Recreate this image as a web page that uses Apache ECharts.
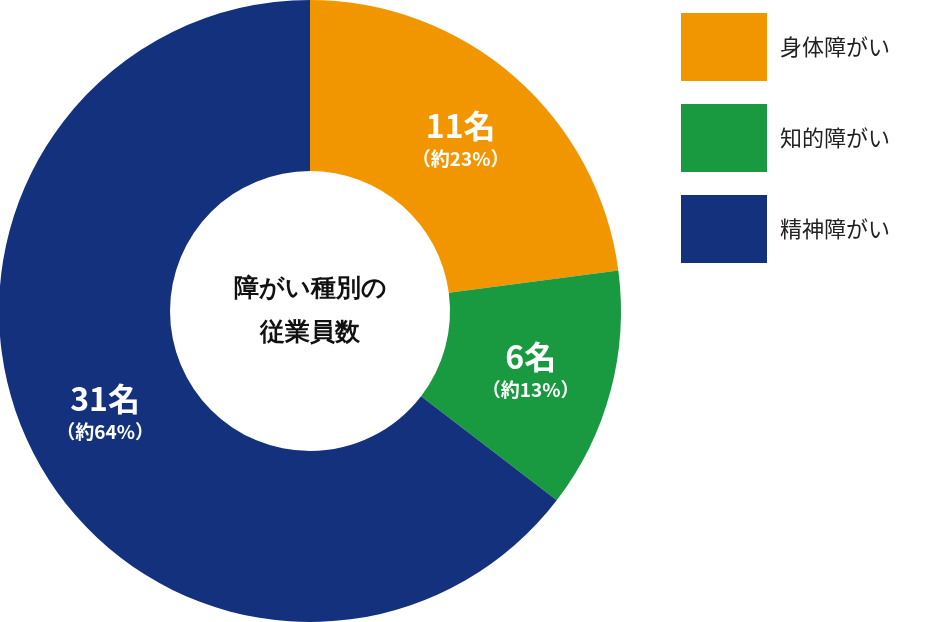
<!DOCTYPE html>
<html><head><meta charset="utf-8">
<script src="https://cdn.jsdelivr.net/npm/echarts@6/dist/echarts.min.js"></script>
<style>html,body{margin:0;padding:0;background:#fff}#c{width:929px;height:622px}</style>
</head><body><div id="c"></div>
<script>
const categories = ['身体障がい','知的障がい','精神障がい'];
const values = [11, 6, 31];
const percents = ['約23%','約13%','約64%'];
const colors = ['#F29600','#1A9A40','#13317D'];
const chart = echarts.init(document.getElementById('c'));
const font = '"Noto Sans CJK JP","Noto Sans",sans-serif';
chart.setOption({
  animation:false,
  legend:{orient:'vertical',left:676,top:8,itemWidth:86,itemHeight:68,itemGap:23,icon:'rect',
    textStyle:{fontSize:22,color:'#222',fontFamily:font,padding:[0,0,0,8]},data:categories},
  graphic:[{type:'text',left:310,top:311,style:{text:'障がい種別の\n従業員数',x:0,y:0,align:'center',verticalAlign:'middle',
    fontSize:25,fontWeight:'bold',lineHeight:44,fill:'#111',font:'bold 25px '+font},position:[310,311],left:null,top:null}],
  series:[{type:'pie',center:[310,311],radius:[140,311],startAngle:90,clockwise:true,
    data:categories.map((c,i)=>({name:c,value:values[i],itemStyle:{color:colors[i]}})),
    label:{position:'inside',formatter:p=>'{a|'+values[p.dataIndex]+'名}\n{b|（'+percents[p.dataIndex]+'）}',
      rich:{a:{fontSize:32,fontWeight:'bold',color:'#fff',fontFamily:font,lineHeight:40,align:'center'},
        b:{fontSize:19,fontWeight:'bold',color:'#fff',fontFamily:font,lineHeight:26,align:'center'}}},
    labelLine:{show:false},emphasis:{disabled:true}}]
});
</script></body></html>
